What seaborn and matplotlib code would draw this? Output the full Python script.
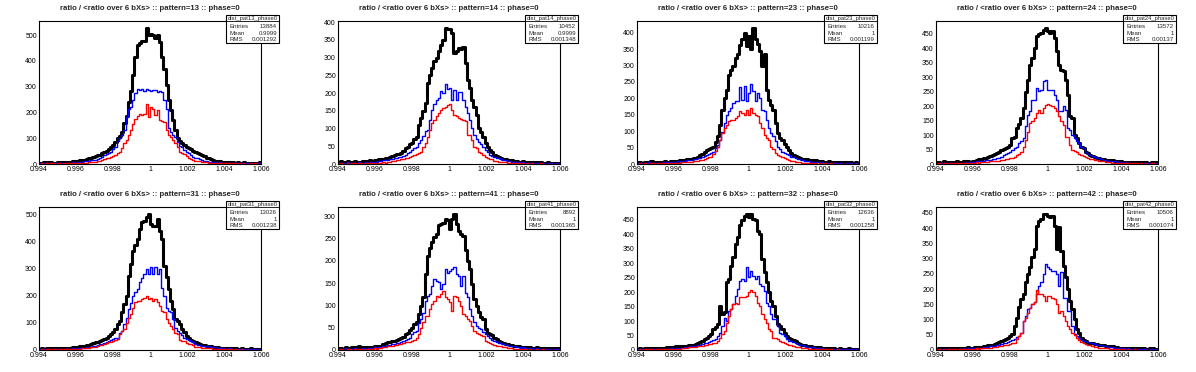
import numpy as np
import pandas as pd
import matplotlib
matplotlib.use("Agg")
import matplotlib.pyplot as plt
from matplotlib.ticker import MultipleLocator, FuncFormatter
from matplotlib.patches import Rectangle
import seaborn as sns

# ---- histogram contents, 100 bins from 0.994 to 1.006 ----
black_13 = [5,4,7,3,6,8,5,4,6,7, 5,8,6,9,7,10,12,11,14,13, 16,18,22,25,28,30,33,35,42,48,
            50,58,65,73,86,100,110,125,158,185, 240,282,344,415,460,470,478,478,528,500,
            505,500,490,499,473,415,370,305,247,209, 170,131,99,90,80,72,67,62,58,52,
            45,42,38,35,30,25,22,18,15,13, 12,10,9,8,7,9,6,7,5,6, 5,4,6,5,3,4,5,3,4,6]
blue_13 = [2,3,2,4,3,2,3,4,3,2, 3,4,3,5,4,6,5,7,8,9, 12,11,13,14,16,17,18,22,28,33,
           39,44,48,58,67,90,99,112,131,183, 215,222,247,275,289,285,292,283,290,288,
           282,285,288,280,282,280,247,215,140,125, 112,106,86,70,67,55,48,41,35,28,
           24,22,18,15,12,10,9,8,7,6, 5,6,4,5,3,4,3,5,3,4, 3,2,4,3,2,3,2,3,4,2]
red_13 = [1,2,1,2,1,3,2,1,2,2, 1,3,2,2,3,2,4,3,2,5, 4,5,7,6,8,9,10,12,15,18,
          22,25,28,32,35,41,48,61,80,93, 112,131,157,176,185,192,190,192,231,183,
          222,215,189,209,170,165,164,131,112,106, 93,80,67,48,41,38,30,22,20,16,
          13,12,10,8,7,6,5,5,4,3, 3,2,3,2,2,3,1,2,2,1, 2,1,2,1,1,2,1,2,1,1]

black_14 = [6,8,5,7,9,4,6,8,5,7, 6,9,7,8,10,9,12,11,14,13, 15,16,18,20,22,25,27,28,30,38,
            45,49,55,60,70,77,110,129,150,172, 228,250,271,290,299,318,335,351,384,380,
            382,370,313,318,327,323,330,285,238,214, 181,160,139,101,90,77,60,49,40,33,
            25,22,21,18,15,13,12,11,10,9, 8,7,6,8,5,6,5,4,6,5, 4,5,3,4,5,3,4,2,3,2]
blue_14 = [3,2,4,3,5,2,3,4,3,5, 4,3,5,4,6,5,7,6,8,9, 10,11,12,13,14,16,18,20,21,23,
           25,30,35,40,44,49,58,68,80,92, 96,125,153,170,181,186,205,200,226,211,
           214,181,209,181,202,202,181,162,143,125, 101,82,70,63,55,49,40,35,25,22,
           21,18,16,14,12,10,9,8,7,6, 5,6,4,5,4,3,4,3,2,3, 2,3,2,1,2,3,2,1,2,2]
red_14 = [1,2,1,1,2,1,3,2,1,2, 2,1,3,2,2,3,2,4,3,4, 5,4,6,7,8,9,10,11,13,14,
          16,18,19,22,25,28,32,35,49,60, 77,96,115,125,134,143,153,158,162,167,
          170,153,139,134,129,127,125,120,82,82, 68,49,44,35,30,25,21,18,15,13,
          9,8,7,7,6,5,4,3,4,3, 2,3,2,2,1,2,1,2,1,1, 1,2,1,1,0,1,1,0,1,1]

black_23 = [5,6,4,7,5,6,8,5,6,7, 6,5,8,7,6,9,8,10,9,12, 11,13,14,15,16,17,18,22,26,31,
            38,43,45,48,53,68,84,119,165,200, 227,272,285,298,323,334,364,380,400,359,
            390,349,415,380,365,344,298,334,227,196, 180,165,124,94,80,73,60,53,43,33,
            28,24,20,17,16,15,14,13,12,12, 11,10,10,9,7,6,8,5,6,7, 5,6,4,5,6,3,5,4,6,3]
blue_23 = [3,2,4,3,2,5,3,4,2,3, 4,3,5,4,6,5,6,7,8,8, 9,10,11,12,12,14,15,17,19,22,
           25,28,30,35,38,50,58,73,99,124, 150,160,172,186,191,191,235,196,237,191,
           216,245,221,191,216,200,165,160,135,109, 94,84,70,53,45,38,33,31,28,22,
           20,18,16,14,12,10,9,8,7,6, 5,6,4,5,3,4,3,4,2,3, 2,3,2,1,2,3,2,1,2,2]
red_23 = [1,2,1,2,1,1,3,2,1,2, 2,3,1,2,3,2,3,4,3,4, 5,5,6,7,7,8,9,10,12,13,
          14,17,20,22,31,40,53,73,94,110, 119,130,133,135,140,145,160,155,150,165,
          150,170,155,148,145,124,109,89,80,73, 53,45,33,28,25,22,18,14,12,10,
          8,7,6,5,4,4,3,3,2,3, 2,1,2,1,2,1,1,2,1,1, 1,1,0,1,1,0,1,1,0,1]

black_24 = [6,8,5,9,7,6,8,5,7,9, 8,6,10,9,11,8,12,10,14,16, 18,20,22,25,28,31,33,38,43,48,
            52,54,60,66,89,95,124,140,159,193, 250,292,344,367,400,442,448,454,465,471,
            459,454,459,436,390,344,326,321,292,240, 165,159,101,89,72,60,54,43,38,31,
            28,25,22,20,18,16,15,14,14,13, 12,12,10,9,8,7,8,6,7,5, 6,7,5,6,8,5,4,6,5,7]
blue_24 = [3,4,2,3,5,3,4,2,3,4, 5,3,4,6,5,7,6,8,9,10, 11,12,13,14,15,16,18,20,22,25,
           30,35,38,43,50,54,60,72,80,89, 130,170,182,222,222,263,251,257,286,292,
           257,257,257,240,222,182,182,199,188,124, 118,101,89,80,72,60,54,43,35,31,
           28,25,22,20,16,14,13,12,11,10, 9,8,7,6,5,6,4,5,3,4, 3,4,2,3,2,3,2,3,2,3]
red_24 = [1,2,1,2,3,1,2,1,2,3, 2,3,2,4,3,4,5,4,6,5, 6,7,8,8,9,10,11,12,12,14,
          15,16,16,20,22,25,31,35,43,60, 83,112,141,147,159,176,188,176,193,205,
          208,205,199,193,182,165,147,135,95,95, 66,49,46,43,35,32,28,25,20,18,
          16,14,13,11,10,9,8,7,6,5, 4,5,3,4,3,2,3,2,2,3, 2,1,2,1,2,1,1,2,1,1]

black_31 = [5,6,4,7,5,8,9,6,5,7, 6,8,5,9,7,10,9,11,13,15, 16,17,20,24,27,29,31,33,38,42,
            46,52,58,68,77,95,108,139,170,200, 275,320,368,390,411,448,473,479,491,504,
            467,460,460,485,442,411,312,269,225,180, 151,114,108,95,77,65,52,44,37,33,
            30,25,21,19,17,15,14,13,12,11, 10,9,8,7,8,6,7,5,6,4, 5,6,4,5,3,6,4,5,3,4]
blue_31 = [2,3,4,2,3,5,3,2,4,3, 4,3,5,4,5,6,5,7,7,8, 9,10,11,12,14,16,18,21,24,27,
           30,34,37,40,43,46,64,70,95,120, 151,175,200,215,225,250,268,281,300,281,
           307,281,307,281,300,231,200,157,145,139, 114,83,70,64,55,46,40,37,33,30,
           21,20,18,16,15,14,13,12,11,10, 9,8,7,6,5,6,4,5,3,4, 3,4,2,3,2,3,2,3,2,3]
red_31 = [1,2,1,3,2,1,2,3,1,2, 2,3,2,3,4,3,4,5,4,6, 6,7,8,10,11,12,14,17,19,22,
          25,28,30,33,37,40,58,70,77,101, 120,132,157,176,182,182,188,194,200,188,
          194,182,188,176,163,145,139,114,101,89, 77,64,58,37,35,33,27,24,21,18,
          12,11,10,9,8,7,7,6,5,4, 4,3,3,2,3,2,2,1,2,1, 1,2,1,1,0,1,1,0,1,1]

black_41 = [4,5,3,6,4,5,7,4,6,9, 5,6,4,7,5,6,8,7,9,10, 13,15,17,18,20,21,22,24,26,30,
            35,39,45,50,58,62,80,99,118,171, 212,230,242,255,261,280,283,285,295,291,
            271,295,306,283,268,261,257,224,200,182, 148,114,99,85,75,69,47,39,36,33,
            28,24,20,17,15,14,13,12,11,10, 9,8,7,6,7,5,6,4,5,6, 4,5,3,4,5,3,4,5,3,4]
blue_41 = [2,3,2,4,3,2,3,4,2,3, 3,4,3,5,4,5,6,5,7,6, 8,9,11,12,13,14,15,16,18,20,
           22,25,28,35,40,43,60,69,84,111, 122,126,144,159,156,152,137,148,182,174,
           178,182,187,171,167,144,167,129,118,92, 77,62,54,50,47,40,36,32,28,23,
           20,18,16,15,13,12,11,10,9,8, 7,6,5,6,4,5,3,4,3,4, 3,2,3,2,3,2,1,2,3,2]
red_41 = [1,2,1,1,2,3,1,2,1,2, 2,1,3,2,3,2,4,3,4,5, 6,7,8,9,10,11,12,13,14,15,
          17,18,19,20,22,28,35,50,62,77, 77,92,103,111,122,118,126,133,118,114,
          107,88,122,118,111,99,80,77,69,65, 54,43,39,35,33,32,20,18,15,13,
          11,10,9,8,7,6,5,5,4,3, 3,2,3,2,2,1,2,1,1,2, 1,1,2,1,0,1,1,0,1,1]

black_32 = [5,6,4,7,5,6,8,5,7,6, 5,8,7,9,10,12,11,13,13,14, 14,15,15,16,16,18,22,25,28,31,
            37,43,48,54,72,80,89,153,124,130, 234,245,292,321,367,390,431,448,465,471,
            459,471,454,448,413,402,315,269,234,199, 170,153,118,89,83,72,60,50,43,38,
            35,30,25,20,18,16,15,14,13,12, 12,10,9,8,7,6,7,5,6,4, 5,6,4,5,3,6,4,5,4,3]
blue_32 = [2,3,2,4,3,2,4,3,2,3, 4,3,5,4,5,6,5,6,7,7, 8,9,10,12,13,14,15,16,18,20,
           23,25,28,31,34,37,49,60,83,112, 101,135,141,159,188,211,240,245,240,286,
           251,274,257,245,257,228,222,205,164,153, 124,106,106,83,60,55,49,37,31,30,
           28,24,20,18,16,14,12,11,10,9, 8,7,6,7,5,4,5,3,4,3, 2,3,2,3,2,1,2,3,2,2]
red_32 = [1,2,1,2,1,2,3,1,2,2, 3,2,3,2,4,3,4,5,4,5, 6,7,8,9,10,11,12,13,14,15,
          17,19,20,22,24,25,31,40,54,66, 95,118,141,159,164,159,182,182,182,188,
          199,208,201,188,164,153,124,106,95,72, 66,43,40,37,31,28,23,21,18,16,
          14,12,10,9,8,7,6,5,4,4, 3,3,2,2,3,2,1,2,1,1, 2,1,1,1,0,1,1,0,1,1]

black_42 = [4,6,5,7,4,6,5,8,6,5, 7,6,8,5,9,7,8,10,9,11, 11,13,14,15,17,18,19,22,26,30,
            33,36,41,46,52,79,106,140,167,183, 222,250,271,304,331,408,425,430,447,447,
            441,436,441,408,330,405,326,277,240,200, 161,134,101,68,57,41,33,30,24,24,
            22,20,19,17,16,15,14,13,13,12, 11,9,8,7,8,6,7,5,6,4, 5,6,4,5,3,4,6,5,4,3]
blue_42 = [2,3,2,4,3,2,3,4,2,3, 4,3,5,4,5,6,5,6,7,7, 8,9,10,11,12,13,14,15,16,20,
           22,24,27,30,33,37,42,46,57,95, 112,134,139,150,156,183,211,222,249,282,
           271,266,260,260,249,211,255,172,172,128, 128,79,52,46,40,33,30,28,26,24,
           22,20,18,16,15,14,12,11,10,9, 8,7,6,5,6,4,5,3,4,3, 2,3,2,3,2,1,2,3,2,2]
red_42 = [1,2,1,2,1,3,2,1,2,1, 2,3,2,3,2,4,3,4,5,4, 5,6,7,7,8,9,10,11,12,14,
          15,16,18,20,22,24,35,45,57,95, 106,123,139,150,156,198,183,183,178,161,
          178,178,172,167,150,123,128,112,95,79, 68,57,48,41,33,26,22,20,18,15,
          13,11,9,8,7,6,5,5,4,4, 3,2,3,2,2,1,2,1,1,2, 1,1,0,1,1,0,1,1,0,1]

patterns = [13, 14, 23, 24, 31, 41, 32, 42]
entries = ["13884", "10452", "10216", "13572", "13026", "8892", "12636", "10506"]
means = ["0.9999", "0.9999", "1", "1", "1", "1", "1", "1"]
rms_vals = ["0.001292", "0.001348", "0.001199", "0.00137", "0.001238", "0.001365", "0.001258", "0.001074"]

blacks = [black_13, black_14, black_23, black_24, black_31, black_41, black_32, black_42]
blues = [blue_13, blue_14, blue_23, blue_24, blue_31, blue_41, blue_32, blue_42]
reds = [red_13, red_14, red_23, red_24, red_31, red_41, red_32, red_42]
ytick_step = [100, 50, 50, 50, 100, 50, 50, 50]

x_lo, x_hi, n_bins = 0.994, 1.006, 100
edges = np.linspace(x_lo, x_hi, n_bins + 1)
centers = 0.5 * (edges[:-1] + edges[1:])

sns.set_style("white")
plt.rcParams['font.family'] = ['Liberation Sans', 'DejaVu Sans']

W, H = 1196, 372
fig = plt.figure(figsize=(W / 100, H / 100), dpi=100)

pad_w, pad_h = 299, 186
fl, fr, ft, fb = 39, 261, 21, 164   # frame inside a pad, in px

def fx(px):
    return px / W

def fy(py):
    return 1 - py / H

for k in range(8):
    r, c = divmod(k, 4)
    x0, y0 = c * pad_w, r * pad_h
    ax = fig.add_axes([fx(x0 + fl), fy(y0 + fb), fx(fr - fl), (fb - ft) / H])

    df = pd.DataFrame({"x": centers, "black": blacks[k], "blue": blues[k], "red": reds[k]})
    for col, color, lw in [("black", "black", 2.2), ("blue", "#0000ff", 1.0), ("red", "#ff0000", 1.0)]:
        sns.histplot(data=df, x="x", weights=col, bins=n_bins, binrange=(x_lo, x_hi),
                     element="step", fill=False, color=color, linewidth=lw, ax=ax)

    ax.set_xlim(x_lo, x_hi)
    ax.set_ylim(0, 1.05 * max(blacks[k]))
    ax.set_xlabel("")
    ax.set_ylabel("")
    ax.xaxis.set_major_locator(MultipleLocator(0.002))
    ax.xaxis.set_minor_locator(MultipleLocator(0.0004))
    ax.xaxis.set_major_formatter(FuncFormatter(lambda v, p: f"{v:g}"))
    ax.yaxis.set_major_locator(MultipleLocator(ytick_step[k]))
    ax.yaxis.set_minor_locator(MultipleLocator(ytick_step[k] / 5))
    ax.tick_params(which="both", direction="in", top=False, right=False,
                   labelsize=5, width=0.6, colors="black")
    ax.tick_params(which="major", length=3.5, pad=1.5)
    ax.tick_params(which="minor", length=1.8)
    for s in ax.spines.values():
        s.set_linewidth(0.8)
        s.set_color("black")

    # title
    fig.text(fx(x0 + 150), fy(y0 + 9),
             f"ratio / <ratio over 6 bXs> :: pattern={patterns[k]} :: phase=0",
             ha="center", va="center", fontsize=5.6, fontweight="bold")

    # stats box
    bx0, bx1, by0, by1 = 226, 279, 15, 43
    sb = fig.add_axes([fx(x0 + bx0), fy(y0 + by1), fx(bx1 - bx0), (by1 - by0) / H])
    sb.set_xlim(0, 1)
    sb.set_ylim(0, 1)
    sb.axis("off")
    sb.add_patch(Rectangle((0, 0), 1, 1, facecolor="white", edgecolor="black",
                           linewidth=0.8, clip_on=False))
    sb.plot([0, 1], [0.786, 0.786], color="black", lw=0.6)
    sb.text(0.5, 0.89, f"dist_pat{patterns[k]}_phase0", ha="center", va="center", fontsize=4.2)
    for yy, lab, val in [(0.58, "Entries", entries[k]), (0.345, "Mean", means[k]),
                         (0.11, "RMS", rms_vals[k])]:
        sb.text(0.06, yy, lab, ha="left", va="center", fontsize=4.4)
        sb.text(0.96, yy, val, ha="right", va="center", fontsize=4.4)

fig.savefig("out.png", dpi=100)
